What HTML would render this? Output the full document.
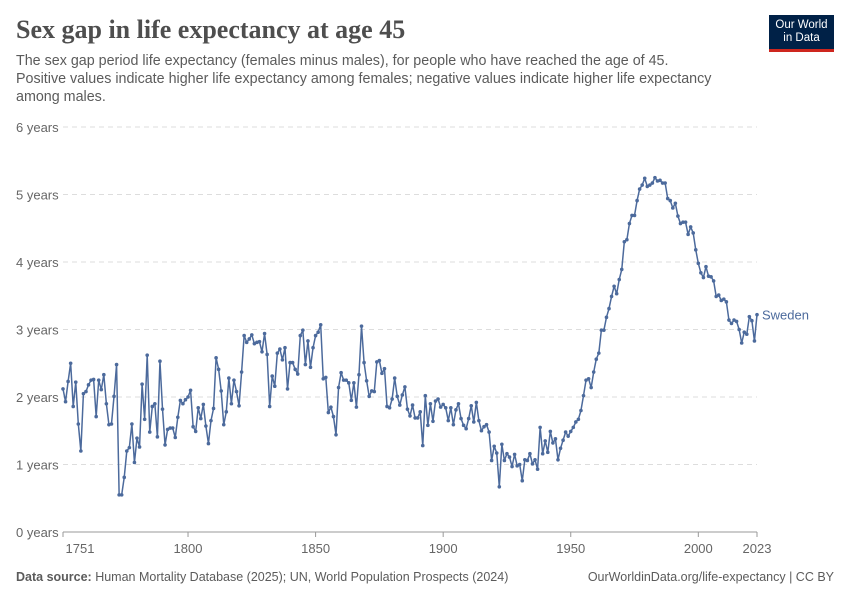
<!DOCTYPE html>
<html><head><meta charset="utf-8"><style>
body{margin:0;background:#fff;font-family:"Liberation Sans",sans-serif;}
#wrap{position:relative;width:850px;height:600px;overflow:hidden;}
.title{position:absolute;left:16px;top:15px;font-family:"Liberation Serif",serif;font-size:26px;font-weight:bold;color:#4e4e4e;}
.sub{position:absolute;left:16px;top:52px;width:760px;font-size:14.3px;line-height:18px;color:#5b5b5b;white-space:nowrap;}
.logo{position:absolute;left:769px;top:15px;width:65px;height:37px;background:#002147;border-bottom:3px solid #ce261e;color:#fff;font-size:11.5px;line-height:13px;text-align:center;padding-top:4px;box-sizing:border-box;}
.foot{position:absolute;top:570px;font-size:12.5px;color:#5b5b5b;}
</style></head><body>
<div id="wrap">
<div class="title">Sex gap in life expectancy at age 45</div>
<div class="sub">The sex gap period life expectancy (females minus males), for people who have reached the age of 45.<br>Positive values indicate higher life expectancy among females; negative values indicate higher life expectancy<br>among males.</div>
<div class="logo">Our World<br>in Data</div>
<svg id="plot" width="850" height="600" style="position:absolute;left:0;top:0"></svg>
<div class="foot" style="left:16px"><b>Data source:</b> Human Mortality Database (2025); UN, World Population Prospects (2024)</div>
<div class="foot" style="right:16px">OurWorldinData.org/life-expectancy | CC BY</div>
</div>
<script>
const startYear = 1751;
const values = [2.12,1.93,2.23,2.5,1.86,2.22,1.6,1.2,2.05,2.08,2.18,2.25,2.26,1.71,2.25,2.11,2.33,1.9,1.59,1.6,
2.01,2.48,0.55,0.55,0.81,1.2,1.25,1.6,1.03,1.39,1.26,2.19,1.67,2.62,1.48,1.86,1.9,1.41,2.53,1.82,
1.29,1.52,1.54,1.54,1.4,1.7,1.95,1.9,1.96,2.0,2.1,1.56,1.49,1.84,1.68,1.89,1.57,1.31,1.65,1.83,
2.58,2.41,2.09,1.59,1.78,2.28,1.9,2.25,2.08,1.87,2.37,2.91,2.81,2.86,2.92,2.79,2.81,2.82,2.67,2.94,
2.63,1.86,2.31,2.16,2.65,2.71,2.55,2.73,2.12,2.51,2.51,2.41,2.34,2.91,2.99,2.48,2.83,2.44,2.73,2.91,
2.96,3.07,2.27,2.29,1.77,1.85,1.71,1.44,2.14,2.36,2.25,2.25,2.21,1.95,2.21,1.85,2.33,3.05,2.51,2.24,
2.01,2.09,2.08,2.52,2.54,2.35,2.42,1.86,1.84,1.97,2.28,2.01,1.88,2.03,2.15,1.82,1.72,1.88,1.69,1.69,
1.78,1.28,2.02,1.58,1.9,1.64,1.94,1.97,1.85,1.89,1.84,1.65,1.84,1.59,1.81,1.9,1.68,1.58,1.53,1.68,
1.87,1.63,1.92,1.65,1.5,1.56,1.59,1.48,1.06,1.27,1.17,0.67,1.3,1.06,1.16,1.11,0.97,1.15,0.98,1.0,
0.76,1.07,1.06,1.16,1.01,1.07,0.93,1.55,1.16,1.35,1.18,1.49,1.32,1.38,1.07,1.24,1.36,1.48,1.42,1.49,
1.55,1.63,1.67,1.80,2.02,2.25,2.27,2.14,2.37,2.56,2.65,2.99,2.99,3.18,3.31,3.49,3.64,3.53,3.74,3.89,
4.30,4.33,4.57,4.69,4.69,4.91,5.08,5.14,5.24,5.12,5.14,5.17,5.25,5.20,5.21,5.17,5.17,4.94,4.91,4.80,
4.87,4.68,4.57,4.59,4.59,4.41,4.52,4.43,4.18,3.98,3.84,3.77,3.93,3.79,3.78,3.72,3.49,3.51,3.43,3.45,
3.41,3.14,3.09,3.14,3.12,3.00,2.80,2.96,2.93,3.19,3.13,2.83,3.22];
const yTicks = [0,1,2,3,4,5,6];
const xTicks = [1751,1800,1850,1900,1950,2000,2023];
const endYear = startYear + values.length - 1;
const svg = document.getElementById('plot');
const NS='http://www.w3.org/2000/svg';
const X0=63,X1=757,Y0=532,Y1=127;
const xs = y => X0 + (y-startYear)/(endYear-startYear)*(X1-X0);
const ys = v => Y0 - v/6*(Y0-Y1);
function mk(t,a){const e=document.createElementNS(NS,t);for(const k in a)e.setAttribute(k,a[k]);svg.appendChild(e);return e;}
yTicks.forEach(t=>{
  const g=mk('line',{x1:X0,x2:X1,y1:ys(t),y2:ys(t),stroke:t===0?'#999':'#ddd','stroke-dasharray':t===0?'':'5,4'});
  
  
  const l=mk('text',{x:16,y:ys(t)+5,'font-size':13,fill:'#666','font-family':'Liberation Sans'});
  l.textContent=t+' years';
  
  
});
xTicks.forEach(t=>{
  const tk=mk('line',{x1:xs(t),x2:xs(t),y1:Y0,y2:Y0+5,stroke:'#999'});
  
  
  let x=xs(t);
  if(t===startYear){x=xs(t)+17;}
  const l=mk('text',{x:x,y:553,'font-size':13,fill:'#666','text-anchor':'middle','font-family':'Liberation Sans'});
  l.textContent=t;
  
  
});
const pts=values.map((v,i)=>xs(startYear+i).toFixed(2)+','+ys(v).toFixed(2)).join(' ');
const line=mk('polyline',{points:pts,fill:'none',stroke:'#4c6a9c','stroke-width':1.5,'stroke-linejoin':'round'});


values.forEach((v,i)=>{
  const c=mk('circle',{cx:xs(startYear+i),cy:ys(v),r:1.8,fill:'#4c6a9c'});
  
  
});
const lab=mk('text',{x:X1+5,y:ys(values[values.length-1])+5,'font-size':13,fill:'#4c6a9c','font-family':'Liberation Sans'});
lab.textContent='Sweden';


</script>
</body></html>
